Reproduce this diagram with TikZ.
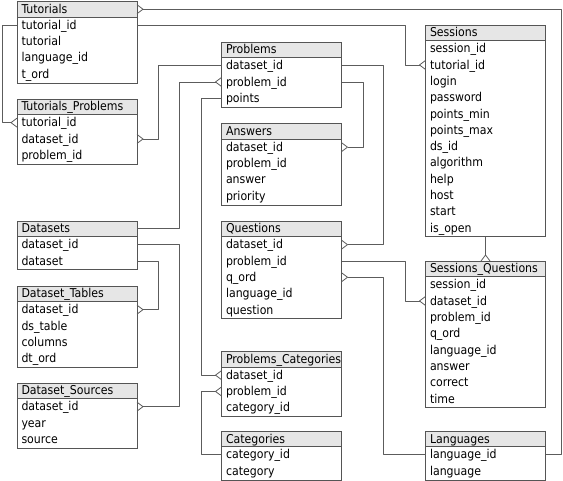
\documentclass[tikz,border=0pt]{standalone}
\usepackage{fontspec}
\setmainfont{DejaVu Sans Condensed}
\usetikzlibrary{arrows.meta}
\definecolor{bordc}{HTML}{555555}
\definecolor{hdrc}{HTML}{E6E6E6}
\definecolor{linec}{HTML}{5C5C5C}
\pgfdeclarearrow{
  name = crow,
  setup code = {
    \pgfarrowssettipend{6pt}
    \pgfarrowssetlineend{0pt}
    \pgfarrowssetbackend{0pt}
    \pgfarrowssetvisualbackend{0pt}
    \pgfarrowshullpoint{6pt}{4.5pt}
    \pgfarrowshullpoint{6pt}{-4.5pt}
    \pgfarrowshullpoint{0pt}{0pt}
  },
  drawing code = {
    \pgfsetdash{}{0pt}
    \pgfpathmoveto{\pgfqpoint{6pt}{4.5pt}}
    \pgfpathlineto{\pgfqpoint{0pt}{0pt}}
    \pgfpathlineto{\pgfqpoint{6pt}{-4.5pt}}
    \pgfusepathqstroke
  }
}
\tikzset{
  tabfont/.style={font=\fontsize{12.2}{14}\selectfont},
  hdrbox/.style={draw=bordc, fill=hdrc, line width=0.8pt, outer sep=0pt, minimum width=120pt,
    minimum height=15.5pt, inner sep=0pt, inner xsep=4.5pt, text width=111pt,
    align=left, text height=10pt, text depth=1.5pt, tabfont},
  rowbox/.style={minimum width=120pt, minimum height=16.3pt, inner sep=0pt, outer sep=0pt,
    inner xsep=4.5pt, text width=111pt, align=left, text height=10pt,
    text depth=1.5pt, tabfont},
  bodybox/.style={draw=bordc, line width=0.8pt, outer sep=0pt, minimum width=120pt, inner sep=0pt},
  conn/.style={draw=linec, line width=0.8pt, line join=round}
}
\newcommand{\erdtab}[5]{%
  \node[hdrbox, anchor=north west] (#1-h) at (#2,#3) {#4};
  \foreach \rowtxt [count=\ri] in {#5}{%
    \node[rowbox, anchor=north west] (#1-\ri) at (#2,{#3+15.5+16.3*(\ri-1)}) {\rowtxt};
    \xdef\erdn{\ri}}%
  \node[bodybox, anchor=north west, minimum height={\erdn*16.3pt+0.8pt}] (#1) at (#1-h.south west) {};
}
\newcommand{\erdroute}[4]{\draw[conn,#1] (#2) -- (#2 -| #3) -- (#4 -| #3) -- (#4);}
\begin{document}
\begin{tikzpicture}[x=1pt,y=-1pt]
\useasboundingbox (0,0) rectangle (563,481);
\erdtab{Tutorials}{17}{1.5}{Tutorials}{tutorial\_id,tutorial,language\_id,t\_ord}
\erdtab{TP}{17}{99}{Tutorials\_Problems}{tutorial\_id,dataset\_id,problem\_id}
\erdtab{Datasets}{17}{221}{Datasets}{dataset\_id,dataset}
\erdtab{DT}{17}{286}{Dataset\_Tables}{dataset\_id,ds\_table,columns,dt\_ord}
\erdtab{DS}{17}{383}{Dataset\_Sources}{dataset\_id,year,source}
\erdtab{Problems}{221.5}{42}{Problems}{dataset\_id,problem\_id,points}
\erdtab{Answers}{221.5}{123.5}{Answers}{dataset\_id,problem\_id,answer,priority}
\erdtab{Questions}{221.5}{221}{Questions}{dataset\_id,problem\_id,q\_ord,language\_id,question}
\erdtab{PC}{221.5}{351.5}{Problems\_Categories}{dataset\_id,problem\_id,category\_id}
\erdtab{Categories}{221.5}{431}{Categories}{category\_id,category}
\erdtab{Sessions}{425.5}{25}{Sessions}{session\_id,tutorial\_id,login,password,points\_min,points\_max,ds\_id,algorithm,help,host,start,is\_open}
\erdtab{SQ}{425.5}{261}{Sessions\_Questions}{session\_id,dataset\_id,problem\_id,q\_ord,language\_id,answer,correct,time}
\erdtab{Languages}{425.5}{431}{Languages}{language\_id,language}
% routing columns
\coordinate (xR) at (561.5,0);
\coordinate (xA) at (405,0);
\coordinate (xL) at (2,0);
\coordinate (xB) at (158,0);
\coordinate (xC) at (179.5,0);
\coordinate (xD) at (201,0);
\coordinate (xE) at (383,0);
\coordinate (xF) at (363,0);
% connectors
\erdroute{{crow}-}{Tutorials-h.east}{xR}{Languages-1.east}
\erdroute{-{crow}}{Tutorials-1.east}{xA}{Sessions-2.west}
\erdroute{-{crow}}{Tutorials-1.west}{xL}{TP-1.west}
\erdroute{{crow}-}{TP-2.east}{xB}{Problems-1.west}
\erdroute{-{crow}}{Datasets-h.east}{xC}{Problems-2.west}
\erdroute{-{crow}}{Problems-3.west}{xD}{PC-1.west}
\erdroute{-{crow}}{Problems-1.east}{xE}{Questions-1.east}
\erdroute{-{crow}}{Problems-2.east}{xF}{Answers-1.east}
\erdroute{-{crow}}{Datasets-1.east}{xC}{DS-1.east}
\erdroute{-{crow}}{Datasets-2.east}{xB}{DT-1.east}
\erdroute{-{crow}}{Questions-2.east}{xA}{SQ-2.west}
\erdroute{{crow}-}{Questions-3.east}{xE}{Languages-1.west}
\erdroute{-{crow}}{Categories-1.west}{xD}{PC-2.west}
\draw[conn,-{crow}] (Sessions.south) -- (SQ-h.north);
\end{tikzpicture}
\end{document}
